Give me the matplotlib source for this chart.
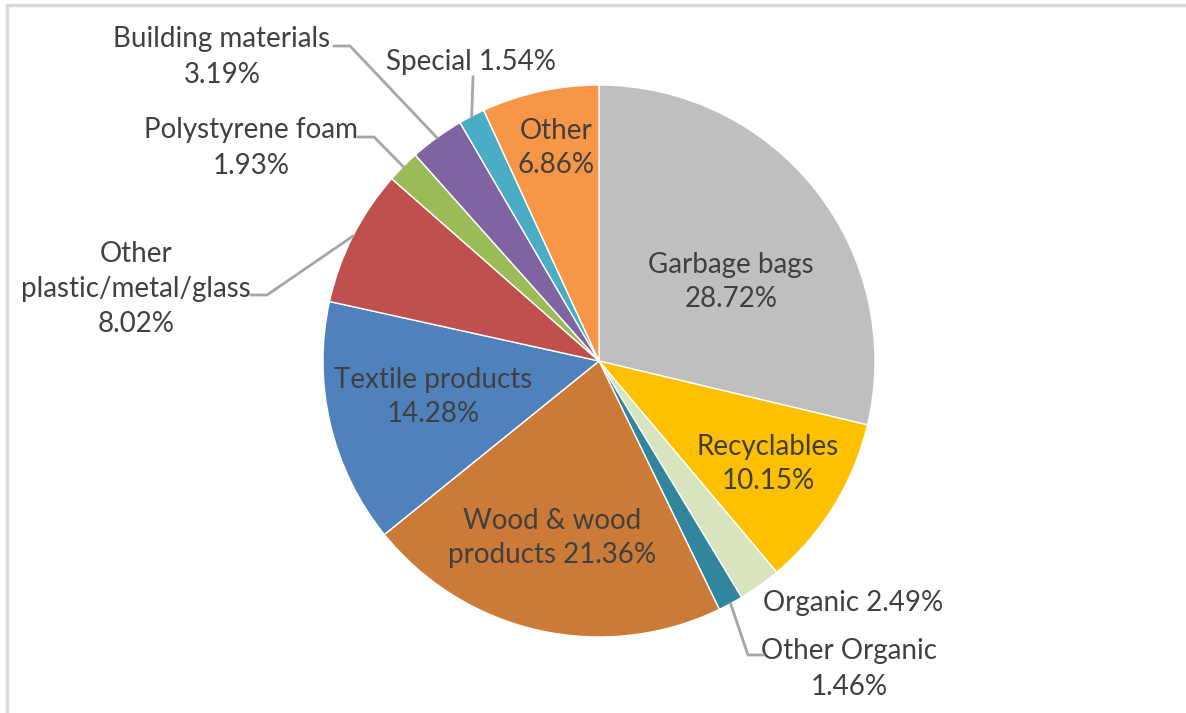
import numpy as np
import matplotlib
matplotlib.use("Agg")
import matplotlib.pyplot as plt
from matplotlib.patches import Rectangle

categories = ["Garbage bags", "Recyclables", "Organic", "Other Organic",
              "Wood & wood products", "Textile products", "Other plastic/metal/glass",
              "Polystyrene foam", "Building materials", "Special", "Other"]
values = [28.72, 10.15, 2.49, 1.46, 21.36, 14.28, 8.02, 1.93, 3.19, 1.54, 6.86]
colors = ["#BFBFBF", "#FFC000", "#D7E4BD", "#31859C", "#CC7A38", "#4F81BD",
          "#C0504D", "#9BBB59", "#8064A2", "#4BACC6", "#F79646"]

W, H = 1186, 713
fig = plt.figure(figsize=(W / 100, H / 100), dpi=100)
ax = fig.add_axes([0, 0, 1, 1])

# frame (top and left border)
fig.patches.append(Rectangle((7 / W, -0.1), 1.2, (H - 5) / H + 0.1, transform=fig.transFigure,
                             fill=False, edgecolor="#D9D9D9", linewidth=2.5))

cx, cy, R = 599, H - 361, 276
wedges, _ = ax.pie(values, colors=colors, startangle=90, counterclock=False,
                   center=(cx, cy), radius=R, frame=True,
                   wedgeprops=dict(edgecolor="white", linewidth=1.0))
ax.set_xlim(0, W)
ax.set_ylim(0, H)
ax.set_aspect("equal")
ax.axis("off")

TXT = "#404040"
FONT = "Lato"
FS = 20


def P(x, y):
    return x, H - y


def lab(x, y, s, ha="center", ls=1.45):
    ax.text(*P(x, y), s, ha=ha, va="center", fontsize=FS, color=TXT,
            family=FONT, linespacing=ls)


# inside labels
lab(731, 282, f"{categories[0]}\n{values[0]:.2f}%", ls=1.35)
lab(768, 464, f"{categories[1]}\n{values[1]:.2f}%", ls=1.35)
lab(552, 538, "Wood & wood\nproducts " + f"{values[4]:.2f}%", ls=1.35)
lab(433, 397, f"{categories[5]}\n{values[5]:.2f}%", ls=1.35)
lab(556, 148, f"{categories[10]}\n{values[10]:.2f}%", ls=1.35)

# outside labels
lab(763, 603, f"{categories[2]} {values[2]:.2f}%", ha="left")
lab(849, 669, f"{categories[3]}\n{values[3]:.2f}%")
lab(136, 289, "Other\nplastic/metal/glass\n" + f"{values[6]:.2f}%")
lab(251, 148, f"{categories[7]}\n{values[7]:.2f}%")
lab(222, 57, f"{categories[8]}\n{values[8]:.2f}%")
lab(471, 62, f"{categories[9]} {values[9]:.2f}%")


def edge_point(i):
    w = wedges[i]
    a = np.deg2rad((w.theta1 + w.theta2) / 2)
    return cx + R * np.cos(a), cy + R * np.sin(a)


def leader(i, pts):
    ex, ey = edge_point(i)
    xs = [p[0] for p in pts] + [ex]
    ys = [H - p[1] for p in pts] + [ey]
    ax.plot(xs, ys, color="#A6A6A6", linewidth=2, solid_joinstyle="miter", zorder=5)


leader(3, [(763, 655), (748, 655)])
leader(6, [(251, 295), (267, 295)])
leader(7, [(358, 137), (374, 137)])
leader(8, [(334, 46), (350, 46)])
leader(9, [(473, 77)])

fig.savefig("out.png", dpi=100, facecolor="white")
